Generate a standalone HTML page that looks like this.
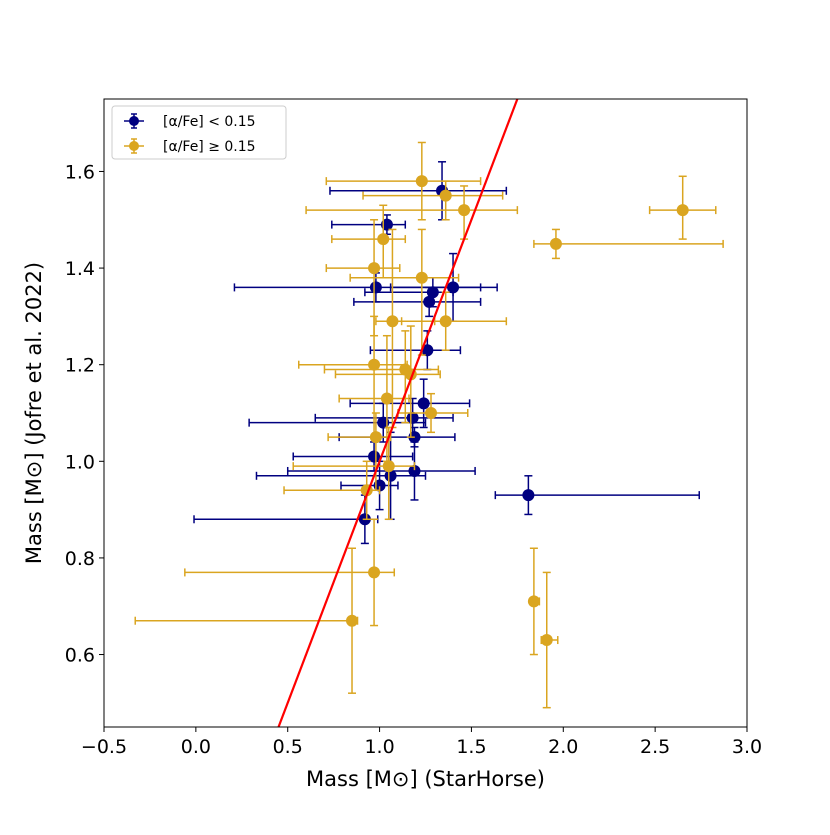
<!DOCTYPE html>
<html><head><meta charset="utf-8"><style>
body{margin:0;background:#fff}
svg{font-family:"DejaVu Sans","Liberation Sans",sans-serif}
</style></head><body>
<svg id="c" width="830" height="830"></svg>
<script>
const navyX=[1.34,1.04,0.98,1.27,1.29,1.40,1.26,1.24,1.18,1.02,1.19,0.97,1.19,1.06,1.00,0.92,1.81];
const navyY=[1.56,1.49,1.36,1.33,1.35,1.36,1.23,1.12,1.09,1.08,1.05,1.01,0.98,0.97,0.95,0.88,0.93];
const navyXlo=[0.73,0.74,0.21,0.86,0.92,1.06,0.95,0.84,0.65,0.29,0.78,0.53,0.50,0.33,0.79,-0.01,1.63];
const navyXhi=[1.69,1.14,1.64,1.55,1.40,1.55,1.44,1.49,1.40,1.25,1.41,1.18,1.52,1.25,1.10,0.99,2.74];
const navyYlo=[1.50,1.47,1.33,1.30,1.32,1.29,1.19,1.07,1.05,1.04,1.03,0.98,0.92,0.88,0.90,0.83,0.89];
const navyYhi=[1.62,1.51,1.39,1.36,1.38,1.43,1.27,1.17,1.13,1.12,1.07,1.04,1.04,1.06,1.00,0.93,0.97];
const goldX=[1.23,1.36,1.46,2.65,1.96,1.02,0.97,1.23,1.07,1.36,0.97,1.14,1.17,1.04,1.28,0.98,1.05,0.93,0.97,0.85,1.84,1.91];
const goldY=[1.58,1.55,1.52,1.52,1.45,1.46,1.40,1.38,1.29,1.29,1.20,1.19,1.18,1.13,1.10,1.05,0.99,0.94,0.77,0.67,0.71,0.63];
const goldXlo=[0.71,0.91,0.60,2.47,1.84,0.74,0.71,0.84,0.98,1.12,0.56,0.70,0.76,0.78,1.10,0.72,0.53,0.48,-0.06,-0.33,1.82,1.88];
const goldXhi=[1.55,1.67,1.75,2.83,2.87,1.14,1.11,1.43,1.30,1.69,1.15,1.32,1.33,1.16,1.48,1.06,1.19,1.00,1.08,0.88,1.87,1.97];
const goldYlo=[1.50,1.50,1.46,1.46,1.42,1.38,1.26,1.22,1.07,1.23,1.05,1.08,1.05,1.00,1.06,0.94,0.88,0.88,0.66,0.52,0.60,0.49];
const goldYhi=[1.66,1.58,1.57,1.59,1.48,1.53,1.50,1.48,1.48,1.35,1.30,1.27,1.28,1.26,1.14,1.10,1.07,1.00,0.88,0.82,0.82,0.77];
const xTicks=[-0.5,0.0,0.5,1.0,1.5,2.0,2.5,3.0];
const yTicks=[0.6,0.8,1.0,1.2,1.4,1.6];
const L=104,R=747,T=99,B=727,X0=-0.5,X1=3.0,Y0=0.45,Y1=1.75;
const sx=v=>L+(v-X0)/(X1-X0)*(R-L);
const sy=v=>B-(v-Y0)/(Y1-Y0)*(B-T);
const svg=document.getElementById('c');const NS='http://www.w3.org/2000/svg';
function mk(t,a,p){const e=document.createElementNS(NS,t);for(const k in a)e.setAttribute(k,a[k]);(p||svg).appendChild(e);return e;}
const clip=mk('clipPath',{id:'cp'});mk('rect',{x:L,y:T,width:R-L,height:B-T},clip);
function series(xs,ys,xl,xh,yl,yh,col,name){
  const g=mk('g',{'clip-path':'url(#cp)'});
  
  
  xs.forEach((x,i)=>{
    const cx=sx(x),cy=sy(ys[i]);
    const eb=mk('g',{stroke:col,'stroke-width':1.5},g);
    
    
    mk('line',{x1:sx(xl[i]),x2:sx(xh[i]),y1:cy,y2:cy},eb);
    mk('line',{x1:sx(xl[i]),x2:sx(xl[i]),y1:cy-4,y2:cy+4},eb);
    mk('line',{x1:sx(xh[i]),x2:sx(xh[i]),y1:cy-4,y2:cy+4},eb);
    mk('line',{x1:cx,x2:cx,y1:sy(yl[i]),y2:sy(yh[i])},eb);
    mk('line',{x1:cx-4,x2:cx+4,y1:sy(yl[i]),y2:sy(yl[i])},eb);
    mk('line',{x1:cx-4,x2:cx+4,y1:sy(yh[i]),y2:sy(yh[i])},eb);
  });
  xs.forEach((x,i)=>{
    const c=mk('circle',{cx:sx(x),cy:sy(ys[i]),r:6,fill:col},g);
    
    
  });
}
series(navyX,navyY,navyXlo,navyXhi,navyYlo,navyYhi,'#000080','low-alpha');
series(goldX,goldY,goldXlo,goldXhi,goldYlo,goldYhi,'#DAA520','high-alpha');
const line=mk('line',{x1:sx(0.3),y1:sy(0.3),x2:sx(2),y2:sy(2),stroke:'#ff0000','stroke-width':2.2,'clip-path':'url(#cp)'});


const frame=mk('rect',{x:L,y:T,width:R-L,height:B-T,fill:'none',stroke:'#000','stroke-width':1});


xTicks.forEach(v=>{
  mk('line',{x1:sx(v),x2:sx(v),y1:B,y2:B+5,stroke:'#000'});
  const t=mk('text',{x:sx(v),y:B+26,'font-size':19,'text-anchor':'middle'});
  t.textContent=(v<0?'\u2212':'')+Math.abs(v).toFixed(1);
  
  
});
yTicks.forEach(v=>{
  mk('line',{x1:L-5,x2:L,y1:sy(v),y2:sy(v),stroke:'#000'});
  const t=mk('text',{x:L-9,y:sy(v)+7,'font-size':19,'text-anchor':'end'});
  t.textContent=v.toFixed(1);
  
  
});
const xt=mk('text',{x:(L+R)/2,y:786,'font-size':21,'text-anchor':'middle'});
xt.textContent='Mass [M\u2299] (StarHorse)';


const yt=mk('text',{x:0,y:0,'font-size':21,'text-anchor':'middle',transform:'translate(41,413) rotate(-90)'});
yt.textContent='Mass [M\u2299] (Jofre et al. 2022)';


const lg=mk('g',{});


mk('rect',{x:112,y:106,width:174,height:53,rx:3,fill:'#fff',stroke:'#ccc'},lg);
[['#000080','[\u03b1/Fe] < 0.15',121],['#DAA520','[\u03b1/Fe] \u2265 0.15',146]].forEach(([c,s,y])=>{
  const e=mk('g',{},lg);
  
  
  mk('line',{x1:124,x2:144,y1:y,y2:y,stroke:c,'stroke-width':1.5},e);
  mk('line',{x1:134,x2:134,y1:y-7,y2:y+7,stroke:c,'stroke-width':1.5},e);
  mk('line',{x1:131,x2:137,y1:y-7,y2:y-7,stroke:c,'stroke-width':1.5},e);
  mk('line',{x1:131,x2:137,y1:y+7,y2:y+7,stroke:c,'stroke-width':1.5},e);
  mk('circle',{cx:134,cy:y,r:5,fill:c},e);
  const t=mk('text',{x:163,y:y+5,'font-size':14},e);t.textContent=s;
});
</script>
</body></html>
